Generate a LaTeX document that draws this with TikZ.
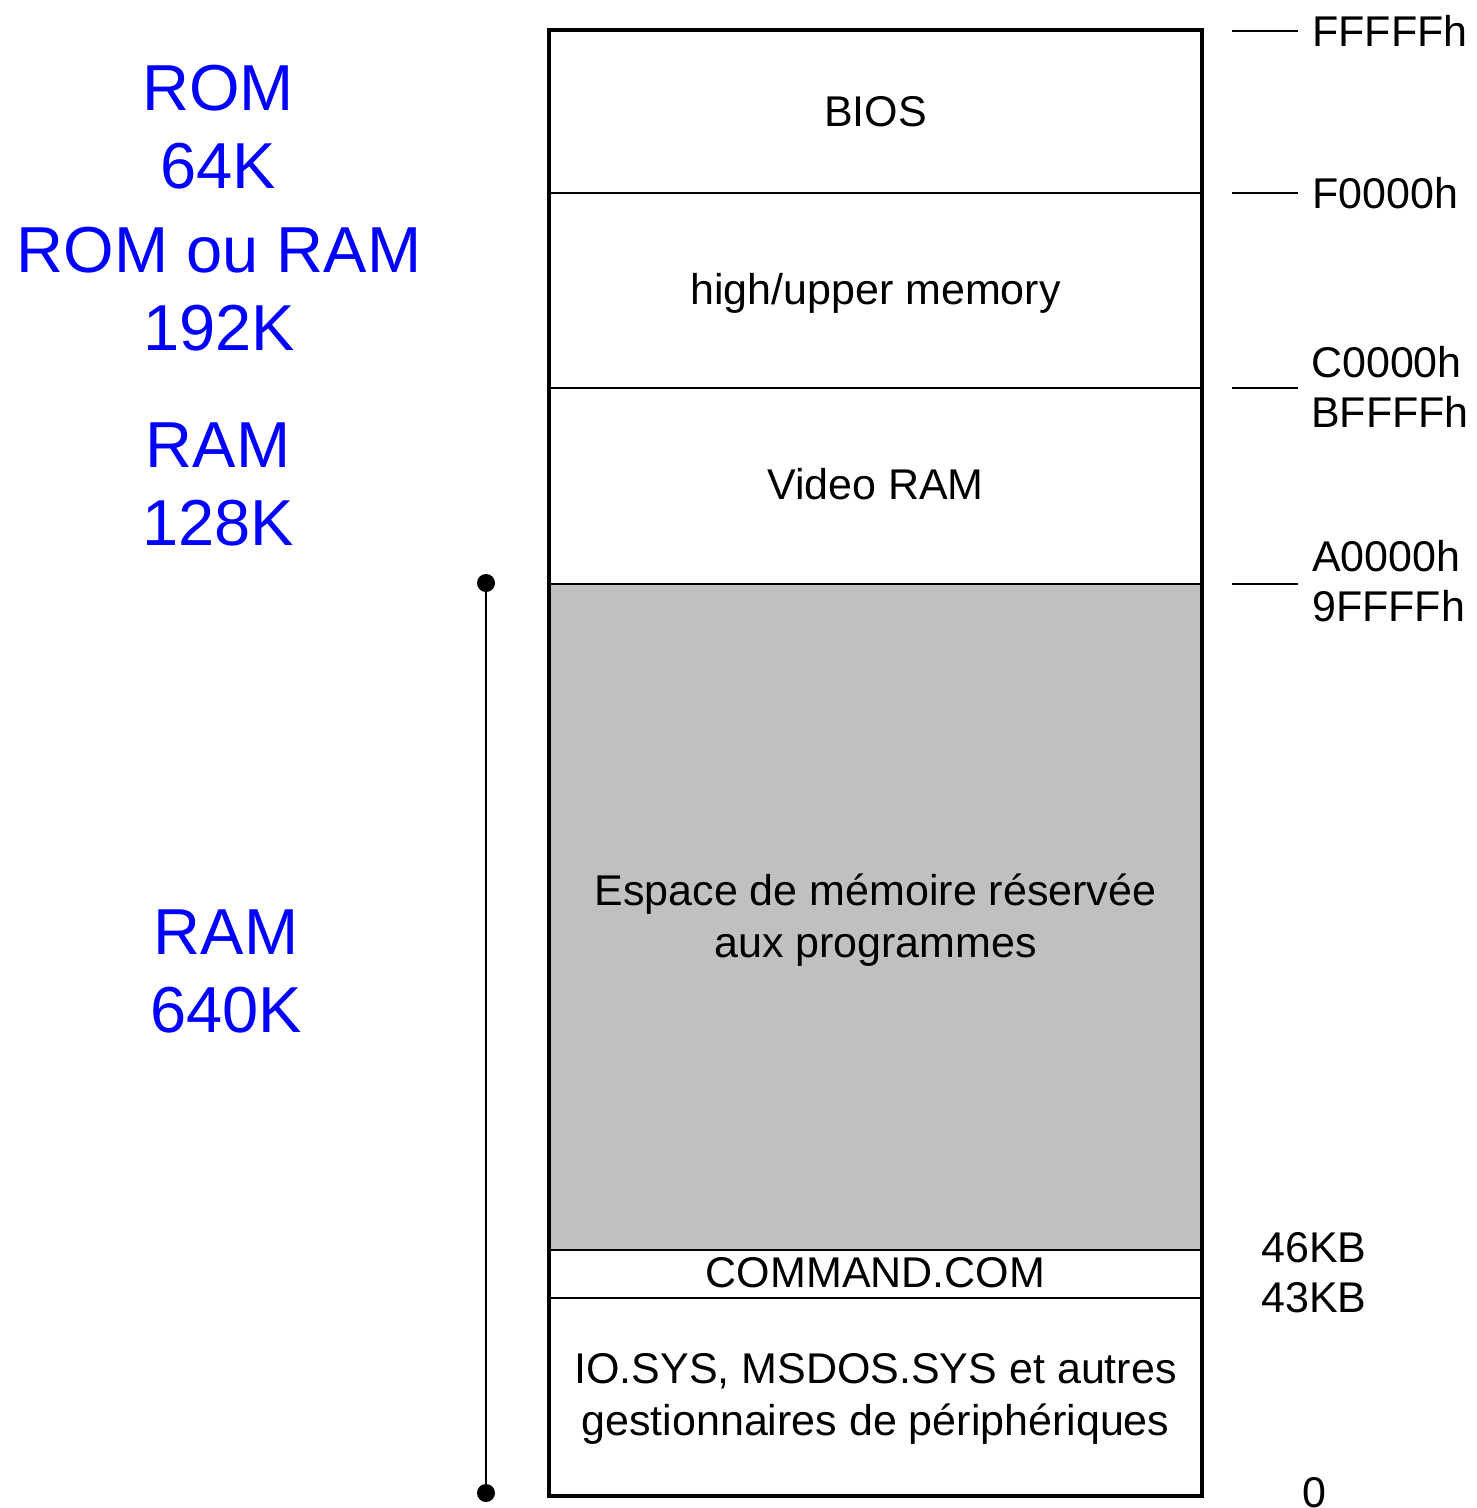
\documentclass[tikz,border=0pt]{standalone}
\usepackage{fontspec}
\setmainfont{Liberation Sans}
\definecolor{memgray}{HTML}{C0C0C0}
\begin{document}
\begin{tikzpicture}[x=1pt,y=-1pt,
  seg/.style={draw, line width=2.5pt, minimum width=653pt, inner sep=0pt, outer sep=0pt},
  frame/.style={draw, line width=4pt, minimum width=653pt, minimum height=1466pt, inner sep=0pt},
  memtxt/.style={font=\fontsize{43}{52}\selectfont, align=center, anchor=base, inner sep=0pt},
  addr/.style={font=\fontsize{43}{50}\selectfont, align=left, anchor=base west, inner sep=0pt},
  kind/.style={font=\fontsize{65}{78}\selectfont, text=blue, align=center, anchor=base, inner sep=0pt},
  tick/.style={line width=2pt},
  span/.style={line width=2.5pt},
  dot/.style={circle, fill, inner sep=0pt, minimum size=18pt}
]
\useasboundingbox (0,0) rectangle (1477,1508);

% memory segments
\node[seg, minimum height=163pt] (bios) at (875.5,111.5) {};
\node[seg, minimum height=195pt] (upper) at (875.5,290.5) {};
\node[seg, minimum height=196pt] (video) at (875.5,486) {};
\node[seg, fill=memgray, minimum height=666pt] (prog) at (875.5,917) {};
\node[seg, minimum height=48pt] (cmd) at (875.5,1274) {};
\node[seg, minimum height=198pt] (dos) at (875.5,1397) {};
\node[frame] (frame) at (875.5,763) {};

% segment texts (base = baseline of last line)
\node[memtxt] (biost) at (875.5,126) {BIOS};
\node[memtxt] (uppert) at (875.5,304) {high/upper memory};
\node[memtxt] (videot) at (875.5,499) {Video RAM};
\node[memtxt] (progt) at (875.5,957) {Espace de mémoire réservée\\aux programmes};
\node[memtxt] (cmdt) at (875.5,1287) {COMMAND.COM};
\node[memtxt] (dost) at (875.5,1435) {IO.SYS, MSDOS.SYS et autres\\gestionnaires de périphériques};

% address ticks
\coordinate (k1a) at (1232,31);  \coordinate (k1b) at (1298,31);
\coordinate (k2a) at (1232,193); \coordinate (k2b) at (1298,193);
\coordinate (k3a) at (1232,388); \coordinate (k3b) at (1298,388);
\coordinate (k4a) at (1232,584); \coordinate (k4b) at (1298,584);
\draw[tick] (k1a) -- (k1b);
\draw[tick] (k2a) -- (k2b);
\draw[tick] (k3a) -- (k3b);
\draw[tick] (k4a) -- (k4b);

% address labels
\node[addr] (a1) at (1312,46) {FFFFFh};
\node[addr] (a2) at (1312,208) {F0000h};
\node[addr] (a3) at (1311,427) {C0000h\\BFFFFh};
\node[addr] (a4) at (1312,621) {A0000h\\9FFFFh};
\node[addr] (a5) at (1261,1312) {46KB\\43KB};
\node[addr] (a6) at (1302,1507) {0};

% RAM span
\node[dot] (d1) at (486,583) {};
\node[dot] (d2) at (486,1493) {};
\draw[span] (d1.center) -- (d2.center);

% kind labels (base = baseline of last line)
\node[kind] (r1) at (218,188) {ROM\\64K};
\node[kind] (r2) at (219,350) {ROM ou RAM\\192K};
\node[kind] (r3) at (218,545) {RAM\\128K};
\node[kind] (r4) at (226,1032) {RAM\\640K};
\end{tikzpicture}
\end{document}
